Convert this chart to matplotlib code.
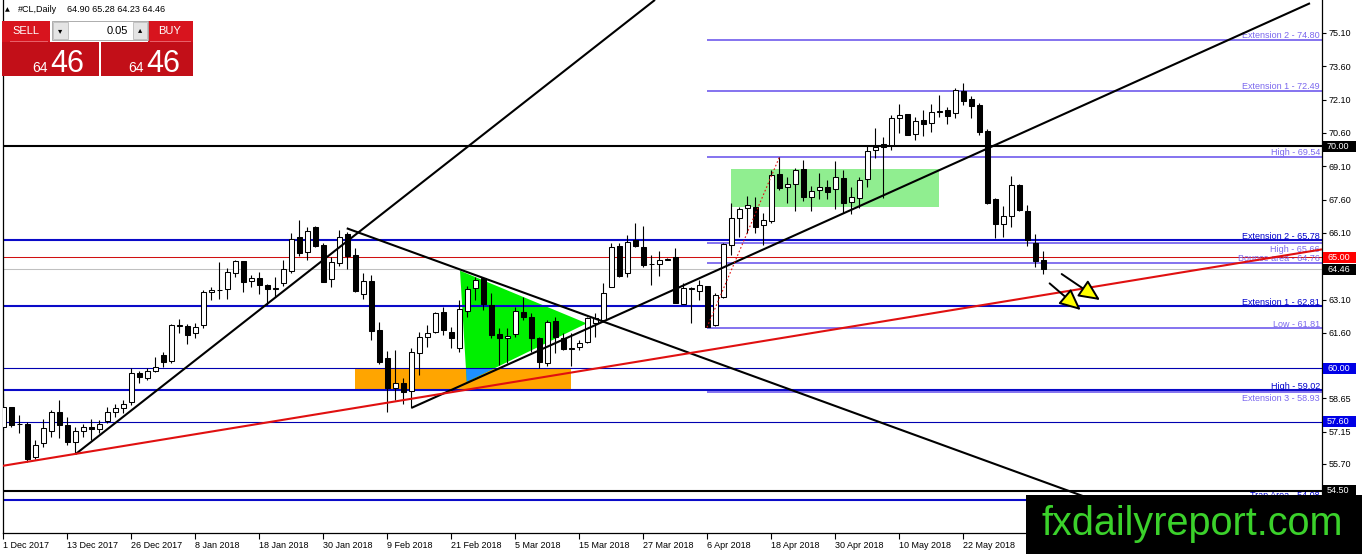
import matplotlib
matplotlib.use('Agg')
import matplotlib.pyplot as plt
from matplotlib.patches import Rectangle, Polygon, FancyArrowPatch
import matplotlib.transforms as mtransforms

plt.rcParams['font.family'] = ['Liberation Sans', 'DejaVu Sans']

# ---------------- data ----------------
opens = [57.38, 58.25, 57.49, 57.50, 56.00, 56.63, 57.19, 58.04, 57.44, 56.71,
         57.19, 57.38, 57.28, 57.65, 58.03, 58.21, 58.48, 59.81, 59.56, 59.90,
         60.61, 60.34, 61.93, 61.91, 61.61, 61.96, 63.44, 63.52, 63.56, 64.28,
         64.82, 63.94, 64.06, 63.76, 63.58, 63.83, 64.40, 65.90, 65.23, 66.35,
         65.56, 64.01, 64.73, 66.05, 65.11, 63.35, 63.95, 61.73, 60.46, 59.11,
         59.36, 59.00, 60.68, 61.40, 61.63, 62.53, 61.63, 60.94, 62.60, 63.61,
         64.06, 62.86, 61.55, 61.36, 61.55, 62.56, 62.30, 61.36, 60.26, 62.15,
         61.36, 60.88, 60.95, 61.21, 62.06, 62.18, 63.65, 65.51, 64.28, 65.78,
         65.48, 64.70, 64.70, 64.90, 65.03, 62.90, 63.59, 63.50, 63.71, 61.96,
         63.23, 65.56, 66.76, 67.21, 67.28, 66.46, 66.65, 68.74, 68.15, 68.30,
         68.96, 67.73, 68.03, 68.18, 68.06, 68.56, 67.51, 67.66, 68.51, 69.83,
         70.10, 70.06, 71.26, 71.45, 70.55, 71.18, 71.03, 71.55, 71.63, 71.48,
         72.50, 72.13, 71.86, 70.70, 67.61, 66.49, 66.86, 68.26, 67.09, 65.66,
         64.90]
highs = [58.88, 58.25, 57.91, 57.61, 56.78, 57.73, 58.13, 58.58, 57.83, 57.38,
         57.50, 57.73, 57.68, 58.28, 58.40, 58.58, 60.01, 59.90, 60.01, 60.53,
         60.76, 61.99, 62.21, 62.00, 62.03, 63.53, 63.68, 64.81, 64.51, 64.88,
         64.82, 64.21, 64.36, 63.80, 64.13, 64.88, 66.08, 66.68, 66.38, 66.41,
         65.66, 65.00, 66.23, 66.16, 65.41, 64.31, 64.21, 62.11, 60.79, 60.83,
         59.56, 60.91, 61.66, 61.96, 62.56, 62.78, 61.88, 63.08, 63.71, 64.13,
         64.13, 63.41, 61.81, 61.81, 62.78, 63.23, 62.51, 61.43, 62.18, 62.33,
         61.58, 61.58, 61.28, 62.33, 62.48, 63.86, 65.63, 65.63, 66.01, 66.53,
         66.41, 65.11, 65.29, 64.96, 65.41, 63.83, 63.68, 63.98, 63.71, 63.38,
         65.66, 67.43, 67.28, 67.76, 67.70, 66.98, 68.93, 69.50, 68.60, 69.01,
         69.38, 68.21, 68.78, 68.48, 69.35, 68.93, 68.15, 68.63, 70.01, 70.81,
         70.43, 71.41, 71.90, 71.45, 71.33, 71.63, 71.90, 72.31, 71.78, 72.61,
         72.83, 72.26, 71.96, 70.76, 67.66, 67.31, 68.66, 68.30, 67.36, 66.05,
         65.28]
lows = [57.23, 57.38, 57.08, 55.81, 55.91, 56.48, 56.90, 56.86, 56.56, 56.14,
        56.93, 56.78, 57.08, 57.53, 57.83, 57.98, 58.36, 59.33, 59.48, 59.86,
        60.08, 60.26, 61.58, 61.09, 61.36, 61.81, 63.08, 63.11, 63.11, 64.10,
        63.46, 63.68, 63.35, 62.86, 63.23, 63.71, 64.28, 65.06, 64.88, 65.48,
        63.88, 63.68, 64.63, 64.46, 63.46, 63.11, 61.28, 60.20, 58.06, 58.58,
        58.40, 58.21, 59.71, 60.95, 61.58, 61.51, 60.91, 60.76, 62.33, 63.08,
        62.63, 61.36, 60.16, 60.23, 61.43, 62.18, 60.76, 60.01, 60.13, 60.68,
        60.83, 60.11, 60.83, 61.13, 61.43, 62.11, 63.65, 64.13, 64.10, 65.48,
        64.58, 63.76, 64.16, 64.88, 62.93, 62.90, 62.06, 63.08, 61.85, 61.91,
        63.16, 65.11, 65.93, 66.08, 66.11, 65.56, 66.56, 68.03, 67.46, 67.10,
        67.55, 67.10, 67.61, 67.61, 67.16, 67.01, 66.95, 67.21, 68.15, 69.46,
        67.66, 69.83, 70.58, 70.51, 70.28, 70.46, 70.66, 71.30, 71.00, 71.26,
        71.86, 71.26, 70.51, 67.40, 65.86, 65.93, 66.35, 67.10, 65.51, 64.58,
        64.23]
closes = [58.28, 57.46, 57.48, 55.91, 56.56, 57.31, 58.04, 57.44, 56.68, 57.19,
          57.35, 57.29, 57.49, 58.04, 58.21, 58.40, 59.78, 59.60, 59.89, 60.08,
          60.31, 61.96, 61.95, 61.51, 61.88, 63.46, 63.53, 63.53, 64.33, 64.82,
          63.88, 64.06, 63.76, 63.56, 63.59, 64.46, 65.83, 65.18, 66.20, 65.51,
          63.91, 64.79, 65.93, 65.08, 63.50, 63.94, 61.70, 60.28, 59.11, 59.36,
          58.93, 60.73, 61.43, 61.61, 62.48, 61.73, 61.36, 62.66, 63.56, 63.98,
          62.90, 61.51, 61.36, 61.46, 62.60, 62.33, 61.36, 60.31, 62.11, 61.40,
          60.86, 60.90, 61.16, 62.26, 62.26, 63.41, 65.48, 64.16, 65.71, 65.51,
          64.66, 64.71, 64.88, 64.92, 62.93, 63.61, 63.61, 63.76, 61.88, 63.31,
          65.60, 66.76, 67.16, 67.36, 66.35, 66.68, 68.71, 68.11, 68.29, 68.93,
          67.73, 68.00, 68.15, 67.96, 68.60, 67.46, 67.70, 68.48, 69.80, 69.98,
          69.98, 71.26, 71.41, 70.51, 71.15, 70.99, 71.56, 71.56, 71.38, 72.53,
          72.05, 71.83, 70.66, 67.46, 66.49, 66.86, 68.26, 67.13, 65.78, 64.85,
          64.46]

date_labels = ['1 Dec 2017', '13 Dec 2017', '26 Dec 2017', '8 Jan 2018', '18 Jan 2018',
               '30 Jan 2018', '9 Feb 2018', '21 Feb 2018', '5 Mar 2018', '15 Mar 2018',
               '27 Mar 2018', '6 Apr 2018', '18 Apr 2018', '30 Apr 2018', '10 May 2018',
               '22 May 2018']
price_ticks = [75.10, 73.60, 72.10, 70.60, 69.10, 67.60, 66.10, 63.10, 61.60, 58.65, 57.15, 55.70]

# full-width horizontal levels: (price, kind)
full_levels = [(70.00, 'black'), (65.78, 'blue'), (65.00, 'red'), (64.46, 'grey'),
               (62.81, 'blue'), (60.00, 'navy'), (59.02, 'blue'), (57.60, 'navy'),
               (54.50, 'black'), (54.08, 'blue')]
# levels starting at the April low (bar 88)
fib_start = 87.96
fib_levels = [74.80, 72.49, 69.54, 65.66, 64.76, 61.81, 58.93]
# (text, price, colour kind, above/below line)
level_texts = [('Extension 2 - 74.80', 74.80, 'p', 'a'), ('Extension 1 - 72.49', 72.49, 'p', 'a'),
               ('High - 69.54', 69.54, 'p', 'a'), ('High - 65.66', 65.66, 'p', 'b'),
               ('Extension 2 - 65.78', 65.78, 'b', 'a'), ('Bounce area - 64.76', 64.76, 'p', 'a'),
               ('Extension 1 - 62.81', 62.81, 'b', 'a'), ('Low - 61.81', 61.81, 'p', 'a'),
               ('Extension 3 - 58.93', 58.93, 'p', 'b'), ('High - 59.02', 59.02, 'b', 'a'),
               ('Trap Area - 54.08', 54.08, 'b', 'a')]
price_boxes = [(70.00, 'black'), (65.00, 'red'), (64.46, 'black'), (60.00, 'blue'),
               (57.60, 'blue'), (54.50, 'black')]

# trend lines as (bar, price) anchors
trend_up1 = [(9.05, 56.15), (81.46, 76.59)]
trend_down = [(42.93, 66.31), (136.0, 54.12)]
trend_up2 = [(51.05, 58.23), (163.34, 76.44)]
trend_red = [(-0.04, 55.62), (164.84, 65.36)]
dotted_red = [(87.96, 61.85), (97.0, 69.50)]
green_box = (90.93, 116.93, 67.28, 68.96)     # bar0, bar1, low, high
orange_box = (43.96, 70.93, 59.04, 60.00)
green_tri = [(57.09, 64.40), (57.93, 59.40), (72.93, 62.03)]
arrows = [((132.3, 64.25), (137.09, 63.08)), ((130.79, 63.83), (134.68, 62.63))]

header = '#CL,Daily'
header_ohlc = '64.90 65.28 64.23 64.46'

# ---------------- figure ----------------
W, H = 1362, 554
fig = plt.figure(figsize=(W / 100, H / 100), dpi=100)
fig.patch.set_facecolor('white')
ax = fig.add_axes([3 / W, 21 / H, 1319 / W, 533 / H])
ax.set_xlim(-0.04, 164.84)
ax.set_ylim(52.594, 76.585)
ax.set_facecolor('white')

colors = {'black': '#000000', 'blue': '#0a0ac8', 'red': '#d01010', 'grey': '#c0c0c0',
          'navy': '#0000b0'}
widths = {'black': 1.5, 'blue': 1.5, 'red': 0.75, 'grey': 0.75, 'navy': 0.8}
purple = '#7b68ee'
dblue = '#0000cd'

# shapes
g0, g1, gl, gh = green_box
ax.add_patch(Rectangle((g0, gl), g1 - g0, gh - gl, facecolor='#90ee90', edgecolor='none', zorder=1))
o0, o1, ol, oh = orange_box
orect = Rectangle((o0, ol), o1 - o0, oh - ol, facecolor='#ffa500', edgecolor='none', zorder=1)
ax.add_patch(orect)
ax.add_patch(Polygon(green_tri, closed=True, facecolor='#00f000', edgecolor='none', zorder=1.2))
blue_tri = Polygon(green_tri, closed=True, facecolor='#1e90ff', edgecolor='none', zorder=1.3)
ax.add_patch(blue_tri)
blue_tri.set_clip_path(orect)

# horizontal levels
for p, k in full_levels:
    ax.axhline(p, color=colors[k], lw=widths[k], zorder=2)
ax.hlines(fib_levels, fib_start, 164.84, color=purple, lw=1.3, zorder=2)

# level texts
btrans = mtransforms.blended_transform_factory(ax.transAxes, ax.transData)
for txt, p, c, pos in level_texts:
    if pos == 'a':
        off, va = (-2, 1.5), 'baseline'
    else:
        off, va = (-2, -2), 'top'
    ax.annotate(txt, xy=(1.0, p), xycoords=btrans, xytext=off,
                textcoords='offset pixels', ha='right', va=va,
                fontsize=6.5, color=purple if c == 'p' else dblue, zorder=3)

# candles
for i, (o, h, l, c) in enumerate(zip(opens, highs, lows, closes)):
    ax.vlines(i, l, h, color='black', lw=0.8, zorder=4)
    bull = c >= o
    bottom = min(o, c)
    height = max(abs(c - o), 0.02)
    ax.bar(i, height, bottom=bottom, width=0.62, color='white' if bull else 'black',
           edgecolor='black', linewidth=0.75, zorder=5)

# trend lines
for line, col in [(trend_up1, 'black'), (trend_down, 'black'), (trend_up2, 'black'),
                  (trend_red, '#e01010')]:
    (x0, y0), (x1, y1) = line
    ax.plot([x0, x1], [y0, y1], color=col, lw=1.5, zorder=6, solid_capstyle='butt')
(x0, y0), (x1, y1) = dotted_red
ax.plot([x0, x1], [y0, y1], color='#e01010', lw=0.8, ls=(0, (1.5, 2)), zorder=6)

for a, b in arrows:
    ax.add_patch(FancyArrowPatch(a, b, arrowstyle='-|>,head_length=1.3,head_width=0.6',
                                 mutation_scale=10, fc='#ffff00', ec='black', lw=1.4,
                                 shrinkA=0, shrinkB=0, zorder=7))

# axes styling
ax.spines['top'].set_visible(False)
for s in ['left', 'right', 'bottom']:
    ax.spines[s].set_color('black')
    ax.spines[s].set_linewidth(0.9)
ax.yaxis.tick_right()
ax.set_yticks(price_ticks)
ax.set_yticklabels([f'{v:.2f}' for v in price_ticks])
ax.tick_params(axis='y', length=3, width=0.8, pad=2, labelsize=6.5, colors='black')
xt = [8 * k for k in range(len(date_labels))]
ax.set_xticks(xt)
ax.set_xticklabels(date_labels)
ax.tick_params(axis='x', length=4, width=0.8, pad=2, labelsize=6.5)
for lab in ax.get_xticklabels():
    lab.set_ha('left')

# right price boxes
bcol = {'black': '#000000', 'red': '#ff0000', 'blue': '#0000e6'}
for p, k in price_boxes:
    ax.add_patch(Rectangle((1 + 1.5 / 1319, p - 0.25), 33 / 1319, 0.5, transform=btrans,
                           facecolor=bcol[k], edgecolor='none', clip_on=False, zorder=8))
    ax.text(1 + 5 / 1319, p, f'{p:.2f}', transform=btrans, ha='left', va='center',
            fontsize=6.5, color='white', clip_on=False, zorder=9)

# ---------------- top-left trading panel ----------------
def frect(x0, y0, x1, y1, **kw):
    fig.add_artist(Rectangle((x0 / W, 1 - y1 / H), (x1 - x0) / W, (y1 - y0) / H,
                             transform=fig.transFigure, **kw))

def ftext(x, y, s, **kw):
    fig.text(x / W, 1 - y / H, s, **kw)

ftext(5, 10, '▲', fontsize=4.5, va='center', ha='left', family=['DejaVu Sans'])
ftext(18, 10, header, fontsize=6.5, va='center', ha='left')
ftext(67, 10, header_ohlc, fontsize=6.5, va='center', ha='left')

red1, red2 = '#d8141e', '#c20f18'
frect(2, 20.7, 50, 42, facecolor=red1, edgecolor='none', zorder=20)
frect(2, 42, 99.3, 76, facecolor=red2, edgecolor='none', zorder=20)
frect(148.3, 20.7, 193.3, 42, facecolor=red1, edgecolor='none', zorder=20)
frect(100.7, 42, 193.3, 76, facecolor=red2, edgecolor='none', zorder=20)
frect(10, 41.2, 48, 41.8, facecolor='#e86068', edgecolor='none', zorder=21)
frect(150, 41.2, 191, 41.8, facecolor='#e86068', edgecolor='none', zorder=21)
frect(51.5, 21, 147.5, 39.5, facecolor='white', edgecolor='#a0a0a0', lw=0.6, zorder=20)
frect(53, 22, 68, 38.5, facecolor='#e4e4e4', edgecolor='#b0b0b0', lw=0.5, zorder=21)
frect(133, 22, 147, 38.5, facecolor='#e4e4e4', edgecolor='#b0b0b0', lw=0.5, zorder=21)
ftext(60.5, 30.5, '▾', fontsize=6, ha='center', va='center', family=['DejaVu Sans'], zorder=22)
ftext(140, 30, '▴', fontsize=6, ha='center', va='center', family=['DejaVu Sans'], zorder=22)
ftext(128, 30.5, '0.05', fontsize=8, ha='right', va='center', zorder=22)
ftext(26, 31.5, 'SELL', fontsize=8, ha='center', va='center', color='white', zorder=22)
ftext(170, 31.5, 'BUY', fontsize=8, ha='center', va='center', color='white', zorder=22)
ftext(48, 72, '64', fontsize=10, ha='right', va='baseline', color='white', zorder=22)
ftext(50, 72, '46', fontsize=22, ha='left', va='baseline', color='white', zorder=22)
ftext(144, 72, '64', fontsize=10, ha='right', va='baseline', color='white', zorder=22)
ftext(146, 72, '46', fontsize=22, ha='left', va='baseline', color='white', zorder=22)

# ---------------- watermark ----------------
frect(1026, 495, 1362, 554, facecolor='black', edgecolor='none', zorder=30)
ftext(1042, 535, 'fxdailyreport.com', fontsize=28.5, color='#3bd12b', ha='left',
      va='baseline', zorder=31)

fig.savefig('out.png', dpi=100)
